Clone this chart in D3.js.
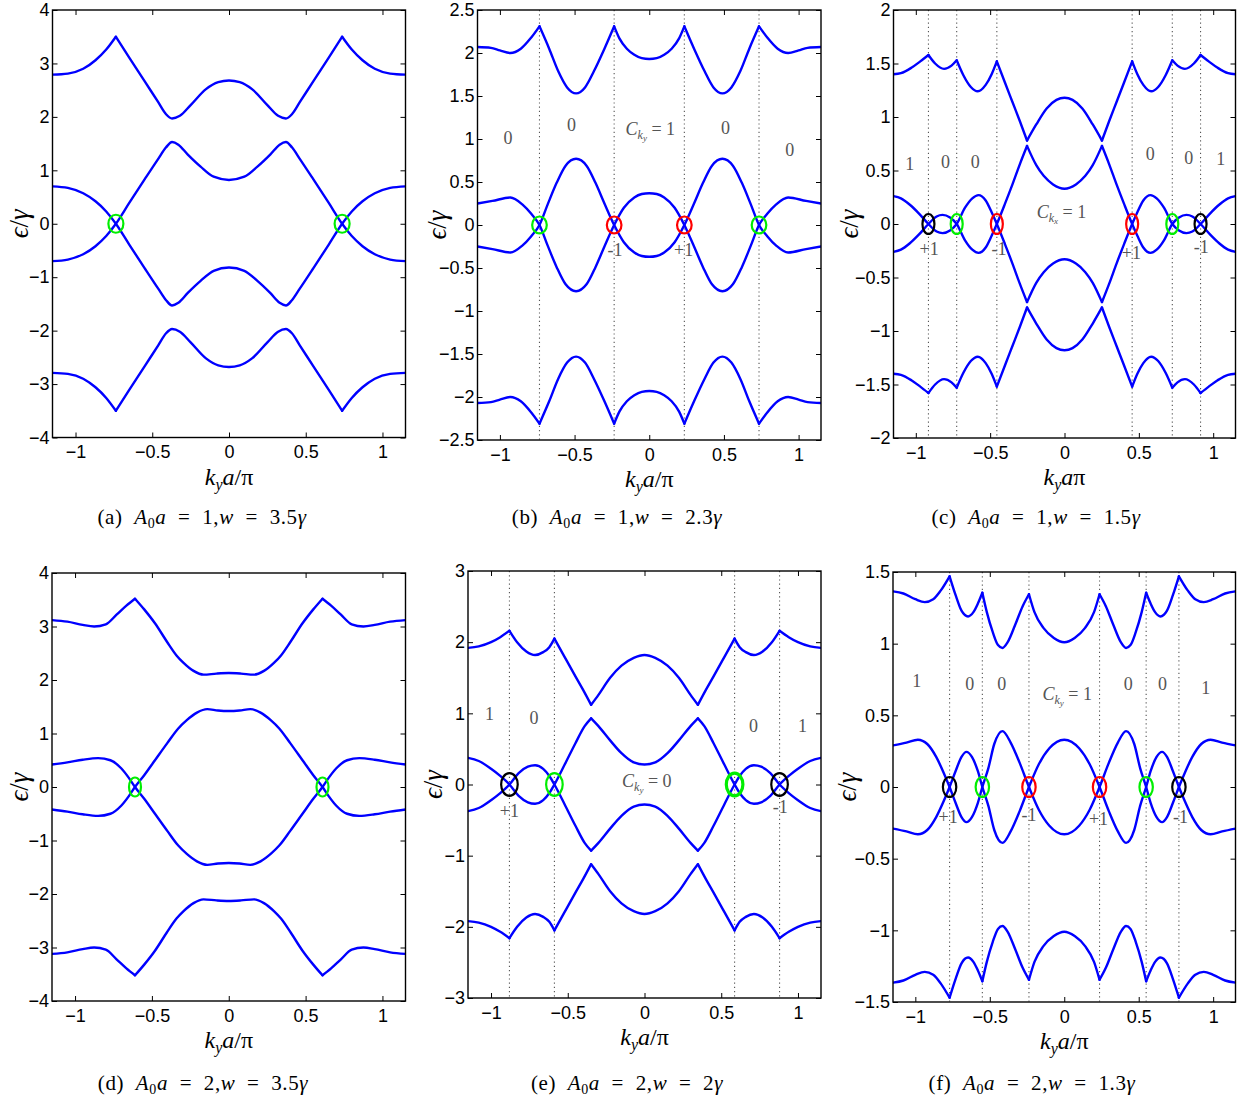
<!DOCTYPE html>
<html><head><meta charset="utf-8">
<script src="https://cdn.jsdelivr.net/npm/d3@7"></script>
<style>body{margin:0;background:#fff}svg{display:block}</style>
</head><body>
<svg id="chart" width="1250" height="1100"></svg>
<script>
// ---------- shared axis values ----------
const kDomain = [-1.15, 1.15];
const kTicks = [-1, -0.5, 0, 0.5, 1];
const kTickLabels = ["−1", "−0.5", "0", "0.5", "1"];

// ---------- panel (a) A0a=1, w=3.5 ----------
const aYTicks = [-4,-3,-2,-1,0,1,2,3,4];
const aYLabels = ["−4","−3","−2","−1","0","1","2","3","4"];
const aBand4 = [
 [[-1.15,2.79],[-1.05,2.81],[-0.95,2.9],[-0.87,3.06],[-0.8,3.26],[-0.737,3.5]],
 [[-0.737,3.5],[-0.65,3.11],[-0.55,2.67],[-0.46,2.27],[-0.41,2.05],[-0.371,1.97],[-0.32,2.02],[-0.25,2.22],[-0.15,2.52],[-0.07,2.65],[0,2.68],[0.07,2.65],[0.15,2.52],[0.25,2.22],[0.32,2.02],[0.371,1.97],[0.41,2.05],[0.46,2.27],[0.55,2.67],[0.65,3.11],[0.737,3.5]],
 [[0.737,3.5],[0.8,3.26],[0.87,3.06],[0.95,2.9],[1.05,2.81],[1.15,2.79]]
];
const aBand1 = [
 [[-1.15,-2.79],[-1.05,-2.81],[-0.95,-2.9],[-0.87,-3.06],[-0.8,-3.26],[-0.737,-3.5]],
 [[-0.737,-3.5],[-0.65,-3.11],[-0.55,-2.67],[-0.46,-2.27],[-0.41,-2.05],[-0.371,-1.97],[-0.32,-2.02],[-0.25,-2.22],[-0.15,-2.52],[-0.07,-2.65],[0,-2.68],[0.07,-2.65],[0.15,-2.52],[0.25,-2.22],[0.32,-2.02],[0.371,-1.97],[0.41,-2.05],[0.46,-2.27],[0.55,-2.67],[0.65,-3.11],[0.737,-3.5]],
 [[0.737,-3.5],[0.8,-3.26],[0.87,-3.06],[0.95,-2.9],[1.05,-2.81],[1.15,-2.79]]
];
const aMidA = [
 [[-1.15,0.7],[-1.05,0.67],[-0.95,0.57],[-0.87,0.42],[-0.8,0.23],[-0.737,0],[-0.65,-0.39],[-0.55,-0.83],[-0.46,-1.22],[-0.41,-1.43],[-0.371,-1.53],[-0.33,-1.48],[-0.27,-1.3],[-0.185,-1.07],[-0.1,-0.88],[0,-0.82],[0.1,-0.88],[0.185,-1.07],[0.27,-1.3],[0.33,-1.48],[0.371,-1.53],[0.41,-1.43],[0.46,-1.22],[0.55,-0.83],[0.65,-0.39],[0.737,0],[0.8,0.23],[0.87,0.42],[0.95,0.57],[1.05,0.67],[1.15,0.7]]
];
const aMidB = [
 [[-1.15,-0.7],[-1.05,-0.67],[-0.95,-0.57],[-0.87,-0.42],[-0.8,-0.23],[-0.737,0],[-0.65,0.39],[-0.55,0.83],[-0.46,1.22],[-0.41,1.43],[-0.371,1.53],[-0.33,1.48],[-0.27,1.3],[-0.185,1.07],[-0.1,0.88],[0,0.82],[0.1,0.88],[0.185,1.07],[0.27,1.3],[0.33,1.48],[0.371,1.53],[0.41,1.43],[0.46,1.22],[0.55,0.83],[0.65,0.39],[0.737,0],[0.8,-0.23],[0.87,-0.42],[0.95,-0.57],[1.05,-0.67],[1.15,-0.7]]
];
const aDotted = [];
const aCircles = [[-0.737,"#00ee00",2.2],[0.737,"#00ee00",2.2]];
const aTexts = [];

// ---------- panel (b) A0a=1, w=2.3 ----------
const bYTicks = [-2.5,-2,-1.5,-1,-0.5,0,0.5,1,1.5,2,2.5];
const bYLabels = ["−2.5","−2","−1.5","−1","−0.5","0","0.5","1","1.5","2","2.5"];
const bBand4 = [
 [[-1.15,2.07],[-1.06,2.06],[-1.0,2.03],[-0.93,2.0],[-0.86,2.05],[-0.79,2.18],[-0.735,2.31]],
 [[-0.735,2.31],[-0.67,2.05],[-0.61,1.79],[-0.55,1.6],[-0.49,1.53],[-0.43,1.6],[-0.37,1.79],[-0.3,2.05],[-0.235,2.31]],
 [[-0.235,2.31],[-0.2,2.17],[-0.15,2.05],[-0.1,1.98],[-0.05,1.94],[0,1.93],[0.05,1.94],[0.1,1.98],[0.15,2.05],[0.2,2.17],[0.235,2.31]],
 [[0.235,2.31],[0.3,2.05],[0.37,1.79],[0.43,1.6],[0.49,1.53],[0.55,1.6],[0.61,1.79],[0.67,2.05],[0.735,2.31]],
 [[0.735,2.31],[0.79,2.18],[0.86,2.05],[0.93,2.0],[1.0,2.03],[1.06,2.06],[1.15,2.07]]
];
const bBand1 = [
 [[-1.15,-2.07],[-1.06,-2.06],[-1.0,-2.03],[-0.93,-2.0],[-0.86,-2.05],[-0.79,-2.18],[-0.735,-2.31]],
 [[-0.735,-2.31],[-0.67,-2.05],[-0.61,-1.79],[-0.55,-1.6],[-0.49,-1.53],[-0.43,-1.6],[-0.37,-1.79],[-0.3,-2.05],[-0.235,-2.31]],
 [[-0.235,-2.31],[-0.2,-2.17],[-0.15,-2.05],[-0.1,-1.98],[-0.05,-1.94],[0,-1.93],[0.05,-1.94],[0.1,-1.98],[0.15,-2.05],[0.2,-2.17],[0.235,-2.31]],
 [[0.235,-2.31],[0.3,-2.05],[0.37,-1.79],[0.43,-1.6],[0.49,-1.53],[0.55,-1.6],[0.61,-1.79],[0.67,-2.05],[0.735,-2.31]],
 [[0.735,-2.31],[0.79,-2.18],[0.86,-2.05],[0.93,-2.0],[1.0,-2.03],[1.06,-2.06],[1.15,-2.07]]
];
const bMidA = [
 [[-1.15,0.25],[-1.05,0.28],[-0.93,0.32],[-0.85,0.24],[-0.79,0.13],[-0.735,0],[-0.68,-0.24],[-0.62,-0.49],[-0.56,-0.69],[-0.49,-0.77],[-0.42,-0.69],[-0.36,-0.49],[-0.3,-0.25],[-0.235,0],[-0.17,0.2],[-0.1,0.32],[-0.05,0.36],[0,0.37],[0.05,0.36],[0.1,0.32],[0.17,0.2],[0.235,0],[0.3,-0.25],[0.36,-0.49],[0.42,-0.69],[0.49,-0.77],[0.56,-0.69],[0.62,-0.49],[0.68,-0.24],[0.735,0],[0.79,0.13],[0.85,0.24],[0.93,0.32],[1.05,0.28],[1.15,0.25]]
];
const bMidB = [
 [[-1.15,-0.25],[-1.05,-0.28],[-0.93,-0.32],[-0.85,-0.24],[-0.79,-0.13],[-0.735,0],[-0.68,0.24],[-0.62,0.49],[-0.56,0.69],[-0.49,0.77],[-0.42,0.69],[-0.36,0.49],[-0.3,0.25],[-0.235,0],[-0.17,-0.2],[-0.1,-0.32],[-0.05,-0.36],[0,-0.37],[0.05,-0.36],[0.1,-0.32],[0.17,-0.2],[0.235,0],[0.3,0.25],[0.36,0.49],[0.42,0.69],[0.49,0.77],[0.56,0.69],[0.62,0.49],[0.68,0.24],[0.735,0],[0.79,-0.13],[0.85,-0.24],[0.93,-0.32],[1.05,-0.28],[1.15,-0.25]]
];
const bDotted = [-0.735,-0.235,0.235,0.735];
const bCircles = [[-0.735,"#00ee00",2.2],[-0.235,"#ff0000",2.2],[0.235,"#ff0000",2.2],[0.735,"#00ee00",2.2]];
const bTexts = [[-0.945,1.02,"0"],[-0.52,1.17,"0"],[0.007,1.12,"C","y","1"],[0.51,1.13,"0"],[0.94,0.88,"0"],[-0.23,-0.29,"-1"],[0.23,-0.29,"+1"]];

// ---------- panel (c) A0a=1, w=1.5 ----------
const cYTicks = [-2,-1.5,-1,-0.5,0,0.5,1,1.5,2];
const cYLabels = ["−2","−1.5","−1","−0.5","0","0.5","1","1.5","2"];
const cBand4 = [
 [[-1.15,1.4],[-1.1,1.41],[-1.03,1.46],[-0.97,1.52],[-0.915,1.58]],
 [[-0.915,1.58],[-0.87,1.5],[-0.81,1.45],[-0.76,1.48],[-0.725,1.53]],
 [[-0.725,1.53],[-0.68,1.39],[-0.63,1.28],[-0.583,1.24],[-0.53,1.3],[-0.49,1.4],[-0.455,1.52]],
 [[-0.455,1.52],[-0.4,1.32],[-0.35,1.14],[-0.3,0.96],[-0.252,0.78]],
 [[-0.252,0.78],[-0.19,0.93],[-0.12,1.08],[-0.054,1.16],[0,1.18],[0.054,1.16],[0.12,1.08],[0.19,0.93],[0.252,0.78]],
 [[0.252,0.78],[0.3,0.96],[0.35,1.14],[0.4,1.32],[0.455,1.52]],
 [[0.455,1.52],[0.49,1.4],[0.53,1.3],[0.583,1.24],[0.63,1.28],[0.68,1.39],[0.725,1.53]],
 [[0.725,1.53],[0.76,1.48],[0.81,1.45],[0.87,1.5],[0.915,1.58]],
 [[0.915,1.58],[0.97,1.52],[1.03,1.46],[1.1,1.41],[1.15,1.4]]
];
const cBand1 = [
 [[-1.15,-1.4],[-1.1,-1.41],[-1.03,-1.46],[-0.97,-1.52],[-0.915,-1.58]],
 [[-0.915,-1.58],[-0.87,-1.5],[-0.81,-1.45],[-0.76,-1.48],[-0.725,-1.53]],
 [[-0.725,-1.53],[-0.68,-1.39],[-0.63,-1.28],[-0.583,-1.24],[-0.53,-1.3],[-0.49,-1.4],[-0.455,-1.52]],
 [[-0.455,-1.52],[-0.4,-1.32],[-0.35,-1.14],[-0.3,-0.96],[-0.252,-0.78]],
 [[-0.252,-0.78],[-0.19,-0.93],[-0.12,-1.08],[-0.054,-1.16],[0,-1.18],[0.054,-1.16],[0.12,-1.08],[0.19,-0.93],[0.252,-0.78]],
 [[0.252,-0.78],[0.3,-0.96],[0.35,-1.14],[0.4,-1.32],[0.455,-1.52]],
 [[0.455,-1.52],[0.49,-1.4],[0.53,-1.3],[0.583,-1.24],[0.63,-1.28],[0.68,-1.39],[0.725,-1.53]],
 [[0.725,-1.53],[0.76,-1.48],[0.81,-1.45],[0.87,-1.5],[0.915,-1.58]],
 [[0.915,-1.58],[0.97,-1.52],[1.03,-1.46],[1.1,-1.41],[1.15,-1.4]]
];
const cMidA = [
 [[-1.15,0.26],[-1.1,0.24],[-1.04,0.18],[-0.98,0.1],[-0.915,0],[-0.86,-0.07],[-0.82,-0.085],[-0.77,-0.06],[-0.725,0],[-0.67,0.15],[-0.62,0.24],[-0.578,0.27],[-0.53,0.22],[-0.49,0.11],[-0.455,0],[-0.4,-0.19],[-0.35,-0.37],[-0.3,-0.56],[-0.252,-0.73]],
 [[-0.252,-0.73],[-0.19,-0.55],[-0.14,-0.45],[-0.077,-0.37],[0,-0.33],[0.077,-0.37],[0.14,-0.45],[0.19,-0.55],[0.252,-0.73]],
 [[0.252,-0.73],[0.3,-0.56],[0.35,-0.37],[0.4,-0.19],[0.455,0],[0.49,0.11],[0.53,0.22],[0.578,0.27],[0.62,0.24],[0.67,0.15],[0.725,0],[0.77,-0.06],[0.82,-0.085],[0.86,-0.07],[0.915,0],[0.98,0.1],[1.04,0.18],[1.1,0.24],[1.15,0.26]]
];
const cMidB = [
 [[-1.15,-0.26],[-1.1,-0.24],[-1.04,-0.18],[-0.98,-0.1],[-0.915,0],[-0.86,0.07],[-0.82,0.085],[-0.77,0.06],[-0.725,0],[-0.67,-0.15],[-0.62,-0.24],[-0.578,-0.27],[-0.53,-0.22],[-0.49,-0.11],[-0.455,0],[-0.4,0.19],[-0.35,0.37],[-0.3,0.56],[-0.252,0.73]],
 [[-0.252,0.73],[-0.19,0.55],[-0.14,0.45],[-0.077,0.37],[0,0.33],[0.077,0.37],[0.14,0.45],[0.19,0.55],[0.252,0.73]],
 [[0.252,0.73],[0.3,0.56],[0.35,0.37],[0.4,0.19],[0.455,0],[0.49,-0.11],[0.53,-0.22],[0.578,-0.27],[0.62,-0.24],[0.67,-0.15],[0.725,0],[0.77,0.06],[0.82,0.085],[0.86,0.07],[0.915,0],[0.98,-0.1],[1.04,-0.18],[1.1,-0.24],[1.15,-0.26]]
];
const cDotted = [-0.915,-0.725,-0.455,0.455,0.725,0.915];
const cCircles = [[-0.915,"#000000",2.2],[-0.725,"#00ee00",2.2],[-0.455,"#ff0000",2.2],[0.455,"#ff0000",2.2],[0.725,"#00ee00",2.2],[0.915,"#000000",2.2]];
const cTexts = [[-1.04,0.56,"1"],[-0.8,0.58,"0"],[-0.6,0.58,"0"],[0.576,0.66,"0"],[0.835,0.62,"0"],[1.05,0.61,"1"],[-0.02,0.115,"C","x","1"],[-0.91,-0.23,"+1"],[-0.44,-0.23,"-1"],[0.45,-0.27,"+1"],[0.92,-0.21,"-1"]];

// ---------- panel (d) A0a=2, w=3.5 ----------
const dYTicks = [-4,-3,-2,-1,0,1,2,3,4];
const dYLabels = ["−4","−3","−2","−1","0","1","2","3","4"];
const dBand4 = [
 [[-1.15,3.12],[-1.05,3.09],[-0.95,3.03],[-0.876,3.0],[-0.8,3.04],[-0.73,3.22],[-0.666,3.39],[-0.61,3.52]],
 [[-0.61,3.52],[-0.55,3.32],[-0.48,3.06],[-0.403,2.72],[-0.34,2.46],[-0.294,2.32],[-0.229,2.17],[-0.164,2.1],[-0.08,2.12],[0,2.13],[0.08,2.12],[0.164,2.1],[0.229,2.17],[0.294,2.32],[0.34,2.46],[0.403,2.72],[0.48,3.06],[0.55,3.32],[0.61,3.52]],
 [[0.61,3.52],[0.666,3.39],[0.73,3.22],[0.8,3.04],[0.876,3.0],[0.95,3.03],[1.05,3.09],[1.15,3.12]]
];
const dBand1 = [
 [[-1.15,-3.12],[-1.05,-3.09],[-0.95,-3.03],[-0.876,-3.0],[-0.8,-3.04],[-0.73,-3.22],[-0.666,-3.39],[-0.61,-3.52]],
 [[-0.61,-3.52],[-0.55,-3.32],[-0.48,-3.06],[-0.403,-2.72],[-0.34,-2.46],[-0.294,-2.32],[-0.229,-2.17],[-0.164,-2.1],[-0.08,-2.12],[0,-2.13],[0.08,-2.12],[0.164,-2.1],[0.229,-2.17],[0.294,-2.32],[0.34,-2.46],[0.403,-2.72],[0.48,-3.06],[0.55,-3.32],[0.61,-3.52]],
 [[0.61,-3.52],[0.666,-3.39],[0.73,-3.22],[0.8,-3.04],[0.876,-3.0],[0.95,-3.03],[1.05,-3.09],[1.15,-3.12]]
];
const dMidA = [
 [[-1.15,0.42],[-1.05,0.46],[-0.95,0.51],[-0.85,0.54],[-0.77,0.5],[-0.7,0.35],[-0.65,0.17],[-0.61,0],[-0.55,-0.22],[-0.48,-0.5],[-0.4,-0.82],[-0.33,-1.09],[-0.273,-1.25],[-0.207,-1.39],[-0.14,-1.455],[-0.07,-1.43],[0,-1.42],[0.07,-1.43],[0.14,-1.455],[0.207,-1.39],[0.273,-1.25],[0.33,-1.09],[0.4,-0.82],[0.48,-0.5],[0.55,-0.22],[0.61,0],[0.65,0.17],[0.7,0.35],[0.77,0.5],[0.85,0.54],[0.95,0.51],[1.05,0.46],[1.15,0.42]]
];
const dMidB = [
 [[-1.15,-0.42],[-1.05,-0.46],[-0.95,-0.51],[-0.85,-0.54],[-0.77,-0.5],[-0.7,-0.35],[-0.65,-0.17],[-0.61,0],[-0.55,0.22],[-0.48,0.5],[-0.4,0.82],[-0.33,1.09],[-0.273,1.25],[-0.207,1.39],[-0.14,1.455],[-0.07,1.43],[0,1.42],[0.07,1.43],[0.14,1.455],[0.207,1.39],[0.273,1.25],[0.33,1.09],[0.4,0.82],[0.48,0.5],[0.55,0.22],[0.61,0],[0.65,-0.17],[0.7,-0.35],[0.77,-0.5],[0.85,-0.54],[0.95,-0.51],[1.05,-0.46],[1.15,-0.42]]
];
const dDotted = [];
const dCircles = [[-0.61,"#00ee00",2.2],[0.61,"#00ee00",2.2]];
const dTexts = [];

// ---------- panel (e) A0a=2, w=2 ----------
const eYTicks = [-3,-2,-1,0,1,2,3];
const eYLabels = ["−3","−2","−1","0","1","2","3"];
const eBand4 = [
 [[-1.15,1.92],[-1.08,1.94],[-1.0,2.0],[-0.94,2.07],[-0.88,2.16]],
 [[-0.88,2.16],[-0.83,2.0],[-0.77,1.87],[-0.713,1.82],[-0.66,1.86],[-0.62,1.93],[-0.587,2.05]],
 [[-0.587,2.05],[-0.52,1.79],[-0.45,1.52],[-0.4,1.33],[-0.348,1.12]],
 [[-0.348,1.12],[-0.3,1.26],[-0.224,1.5],[-0.15,1.67],[-0.07,1.78],[0,1.82],[0.07,1.78],[0.15,1.67],[0.224,1.5],[0.3,1.26],[0.348,1.12]],
 [[0.348,1.12],[0.4,1.33],[0.45,1.52],[0.52,1.79],[0.587,2.05]],
 [[0.587,2.05],[0.62,1.93],[0.66,1.86],[0.713,1.82],[0.77,1.87],[0.83,2.0],[0.88,2.16]],
 [[0.88,2.16],[0.94,2.07],[1.0,2.0],[1.08,1.94],[1.15,1.92]]
];
const eBand1 = [
 [[-1.15,-1.92],[-1.08,-1.94],[-1.0,-2.0],[-0.94,-2.07],[-0.88,-2.16]],
 [[-0.88,-2.16],[-0.83,-2.0],[-0.77,-1.87],[-0.713,-1.82],[-0.66,-1.86],[-0.62,-1.93],[-0.587,-2.05]],
 [[-0.587,-2.05],[-0.52,-1.79],[-0.45,-1.52],[-0.4,-1.33],[-0.348,-1.12]],
 [[-0.348,-1.12],[-0.3,-1.26],[-0.224,-1.5],[-0.15,-1.67],[-0.07,-1.78],[0,-1.82],[0.07,-1.78],[0.15,-1.67],[0.224,-1.5],[0.3,-1.26],[0.348,-1.12]],
 [[0.348,-1.12],[0.4,-1.33],[0.45,-1.52],[0.52,-1.79],[0.587,-2.05]],
 [[0.587,-2.05],[0.62,-1.93],[0.66,-1.86],[0.713,-1.82],[0.77,-1.87],[0.83,-2.0],[0.88,-2.16]],
 [[0.88,-2.16],[0.94,-2.07],[1.0,-2.0],[1.08,-1.94],[1.15,-1.92]]
];
const eMidA = [
 [[-1.15,0.375],[-1.08,0.33],[-1.0,0.22],[-0.94,0.12],[-0.88,0],[-0.82,-0.16],[-0.76,-0.25],[-0.713,-0.27],[-0.66,-0.22],[-0.62,-0.12],[-0.587,0],[-0.52,0.28],[-0.45,0.58],[-0.39,0.82],[-0.348,0.93]],
 [[-0.348,0.93],[-0.3,0.82],[-0.224,0.62],[-0.15,0.44],[-0.07,0.31],[0,0.28],[0.07,0.31],[0.15,0.44],[0.224,0.62],[0.3,0.82],[0.348,0.93]],
 [[0.348,0.93],[0.39,0.82],[0.45,0.58],[0.52,0.28],[0.587,0],[0.62,-0.12],[0.66,-0.22],[0.713,-0.27],[0.76,-0.25],[0.82,-0.16],[0.88,0],[0.94,0.12],[1.0,0.22],[1.08,0.33],[1.15,0.375]]
];
const eMidB = [
 [[-1.15,-0.375],[-1.08,-0.33],[-1.0,-0.22],[-0.94,-0.12],[-0.88,0],[-0.82,0.16],[-0.76,0.25],[-0.713,0.27],[-0.66,0.22],[-0.62,0.12],[-0.587,0],[-0.52,-0.28],[-0.45,-0.58],[-0.39,-0.82],[-0.348,-0.93]],
 [[-0.348,-0.93],[-0.3,-0.82],[-0.224,-0.62],[-0.15,-0.44],[-0.07,-0.31],[0,-0.28],[0.07,-0.31],[0.15,-0.44],[0.224,-0.62],[0.3,-0.82],[0.348,-0.93]],
 [[0.348,-0.93],[0.39,-0.82],[0.45,-0.58],[0.52,-0.28],[0.587,0],[0.62,0.12],[0.66,0.22],[0.713,0.27],[0.76,0.25],[0.82,0.16],[0.88,0],[0.94,-0.12],[1.0,-0.22],[1.08,-0.33],[1.15,-0.375]]
];
const eDotted = [-0.88,-0.587,0.587,0.88];
const eCircles = [[-0.88,"#000000",2.2],[-0.587,"#00ee00",2.2],[0.587,"#00ee00",3.2],[0.88,"#000000",2.2]];
const eTexts = [[-1.01,0.99,"1"],[-0.72,0.94,"0"],[0.71,0.82,"0"],[1.03,0.82,"1"],[0.015,0.06,"C","y","0"],[-0.88,-0.37,"+1"],[0.885,-0.31,"-1"]];

// ---------- panel (f) A0a=2, w=1.3 ----------
const fYTicks = [-1.5,-1,-0.5,0,0.5,1,1.5];
const fYLabels = ["−1.5","−1","−0.5","0","0.5","1","1.5"];
const fBand4 = [
 [[-1.15,1.365],[-1.08,1.35],[-1.0,1.31],[-0.937,1.29],[-0.88,1.31],[-0.83,1.37],[-0.77,1.47]],
 [[-0.77,1.47],[-0.73,1.34],[-0.69,1.23],[-0.646,1.19],[-0.61,1.22],[-0.58,1.28],[-0.55,1.355]],
 [[-0.55,1.355],[-0.52,1.22],[-0.48,1.08],[-0.445,0.99],[-0.415,0.97],[-0.38,1.01],[-0.33,1.13],[-0.28,1.26],[-0.237,1.345]],
 [[-0.237,1.345],[-0.2,1.22],[-0.14,1.11],[-0.07,1.04],[0,1.01],[0.07,1.04],[0.14,1.11],[0.2,1.22],[0.237,1.345]],
 [[0.237,1.345],[0.28,1.26],[0.33,1.13],[0.38,1.01],[0.415,0.97],[0.445,0.99],[0.48,1.08],[0.52,1.22],[0.55,1.355]],
 [[0.55,1.355],[0.58,1.28],[0.61,1.22],[0.646,1.19],[0.69,1.23],[0.73,1.34],[0.77,1.47]],
 [[0.77,1.47],[0.83,1.37],[0.88,1.31],[0.937,1.29],[1.0,1.31],[1.08,1.35],[1.15,1.365]]
];
const fBand1 = [
 [[-1.15,-1.365],[-1.08,-1.35],[-1.0,-1.31],[-0.937,-1.29],[-0.88,-1.31],[-0.83,-1.37],[-0.77,-1.47]],
 [[-0.77,-1.47],[-0.73,-1.34],[-0.69,-1.23],[-0.646,-1.19],[-0.61,-1.22],[-0.58,-1.28],[-0.55,-1.355]],
 [[-0.55,-1.355],[-0.52,-1.22],[-0.48,-1.08],[-0.445,-0.99],[-0.415,-0.97],[-0.38,-1.01],[-0.33,-1.13],[-0.28,-1.26],[-0.237,-1.345]],
 [[-0.237,-1.345],[-0.2,-1.22],[-0.14,-1.11],[-0.07,-1.04],[0,-1.01],[0.07,-1.04],[0.14,-1.11],[0.2,-1.22],[0.237,-1.345]],
 [[0.237,-1.345],[0.28,-1.26],[0.33,-1.13],[0.38,-1.01],[0.415,-0.97],[0.445,-0.99],[0.48,-1.08],[0.52,-1.22],[0.55,-1.355]],
 [[0.55,-1.355],[0.58,-1.28],[0.61,-1.22],[0.646,-1.19],[0.69,-1.23],[0.73,-1.34],[0.77,-1.47]],
 [[0.77,-1.47],[0.83,-1.37],[0.88,-1.31],[0.937,-1.29],[1.0,-1.31],[1.08,-1.35],[1.15,-1.365]]
];
const fMidA = [
 [[-1.15,0.29],[-1.06,0.31],[-0.983,0.33],[-0.92,0.3],[-0.86,0.21],[-0.81,0.1],[-0.77,0],[-0.73,-0.11],[-0.69,-0.21],[-0.657,-0.245],[-0.62,-0.21],[-0.58,-0.11],[-0.55,0],[-0.51,0.13],[-0.47,0.3],[-0.415,0.39],[-0.36,0.31],[-0.3,0.17],[-0.237,0],[-0.17,-0.16],[-0.1,-0.27],[0,-0.33],[0.1,-0.27],[0.17,-0.16],[0.237,0],[0.3,0.17],[0.36,0.31],[0.415,0.39],[0.47,0.3],[0.51,0.13],[0.55,0],[0.58,-0.11],[0.62,-0.21],[0.657,-0.245],[0.69,-0.21],[0.73,-0.11],[0.77,0],[0.81,0.1],[0.86,0.21],[0.92,0.3],[0.983,0.33],[1.06,0.31],[1.15,0.29]]
];
const fMidB = [
 [[-1.15,-0.29],[-1.06,-0.31],[-0.983,-0.33],[-0.92,-0.3],[-0.86,-0.21],[-0.81,-0.1],[-0.77,0],[-0.73,0.11],[-0.69,0.21],[-0.657,0.245],[-0.62,0.21],[-0.58,0.11],[-0.55,0],[-0.51,-0.13],[-0.47,-0.3],[-0.415,-0.39],[-0.36,-0.31],[-0.3,-0.17],[-0.237,0],[-0.17,0.16],[-0.1,0.27],[0,0.33],[0.1,0.27],[0.17,0.16],[0.237,0],[0.3,-0.17],[0.36,-0.31],[0.415,-0.39],[0.47,-0.3],[0.51,-0.13],[0.55,0],[0.58,0.11],[0.62,0.21],[0.657,0.245],[0.69,0.21],[0.73,0.11],[0.77,0],[0.81,-0.1],[0.86,-0.21],[0.92,-0.3],[0.983,-0.33],[1.06,-0.31],[1.15,-0.29]]
];
const fDotted = [-0.77,-0.55,-0.237,0.237,0.55,0.77];
const fCircles = [[-0.77,"#000000",2.2],[-0.55,"#00ee00",2.2],[-0.237,"#ff0000",2.2],[0.237,"#ff0000",2.2],[0.55,"#00ee00",2.2],[0.77,"#000000",2.2]];
const fTexts = [[-0.99,0.74,"1"],[-0.635,0.72,"0"],[-0.42,0.72,"0"],[0.02,0.65,"C","y","1"],[0.43,0.72,"0"],[0.66,0.72,"0"],[0.95,0.69,"1"],[-0.78,-0.21,"+1"],[-0.236,-0.19,"-1"],[0.23,-0.22,"+1"],[0.78,-0.21,"-1"]];

// ---------- captions ----------
const capLetters = ["a","b","c","d","e","f"];
const capA = ["1","1","1","2","2","2"];
const capW = ["3.5","2.3","1.5","3.5","2","1.3"];

// ---------- layout (pixels) ----------
const panels = [
 {x0:52.5,x1:405.5,y0:10,y1:437.5,yT:aYTicks,yL:aYLabels,bands:[aBand4,aMidA,aMidB,aBand1],dot:aDotted,circ:aCircles,txt:aTexts,rx:7.5,ry:9,ylx:19,capx:202,capy:517,xlab:"/π"},
 {x0:477.5,x1:821,y0:10,y1:440,yT:bYTicks,yL:bYLabels,bands:[bBand4,bMidA,bMidB,bBand1],dot:bDotted,circ:bCircles,txt:bTexts,rx:7.3,ry:8.5,ylx:437,capx:617,capy:517,xlab:"/π"},
 {x0:893.5,x1:1235.5,y0:10,y1:438,yT:cYTicks,yL:cYLabels,bands:[cBand4,cMidA,cMidB,cBand1],dot:cDotted,circ:cCircles,txt:cTexts,rx:6,ry:10,ylx:849,capx:1036,capy:517,xlab:"π"},
 {x0:52,x1:405.5,y0:573,y1:1001,yT:dYTicks,yL:dYLabels,bands:[dBand4,dMidA,dMidB,dBand1],dot:dDotted,circ:dCircles,txt:dTexts,rx:6,ry:9.5,ylx:19,capx:203,capy:1083,xlab:"/π"},
 {x0:468,x1:821,y0:571,y1:998,yT:eYTicks,yL:eYLabels,bands:[eBand4,eMidA,eMidB,eBand1],dot:eDotted,circ:eCircles,txt:eTexts,rx:8.3,ry:11.3,ylx:433,capx:627,capy:1083,xlab:"/π"},
 {x0:893,x1:1235.5,y0:572,y1:1002,yT:fYTicks,yL:fYLabels,bands:[fBand4,fMidA,fMidB,fBand1],dot:fDotted,circ:fCircles,txt:fTexts,rx:6.7,ry:10,ylx:847,capx:1032,capy:1083,xlab:"/π"}
];

const svg = d3.select("#chart");
const SANS = "'Liberation Sans', Arial, Helvetica, sans-serif";
const SERIF = "'Liberation Serif', 'Times New Roman', 'DejaVu Serif', serif";
const GRAY = "#555555";

panels.forEach((p, i) => {
  const x = d3.scaleLinear().domain(kDomain).range([p.x0, p.x1]);
  const y = d3.scaleLinear().domain([p.yT[0], p.yT[p.yT.length-1]]).range([p.y1, p.y0]);
  const g = svg.append("g");
  const cid = "clip" + i;
  svg.append("clipPath").attr("id", cid).append("rect")
    .attr("x", p.x0).attr("y", p.y0).attr("width", p.x1 - p.x0).attr("height", p.y1 - p.y0);
  const plot = g.append("g").attr("clip-path", `url(#${cid})`);

  // dotted separators
  plot.selectAll("line.dot").data(p.dot).join("line")
    .attr("x1", d => x(d)).attr("x2", d => x(d)).attr("y1", p.y0).attr("y2", p.y1)
    .attr("stroke", "#555").attr("stroke-width", 1.1).attr("stroke-dasharray", "1.2,3");

  // bands
  const line = d3.line().x(d => x(d[0])).y(d => y(d[1])).curve(d3.curveMonotoneX);
  p.bands.forEach(band => band.forEach(seg => {
    plot.append("path").attr("d", line(seg)).attr("fill", "none")
      .attr("stroke", "#0000ff").attr("stroke-width", 2.4)
      .attr("stroke-linejoin", "round").attr("stroke-linecap", "round");
  }));

  // Weyl-point circles
  plot.selectAll("ellipse").data(p.circ).join("ellipse")
    .attr("cx", d => x(d[0])).attr("cy", y(0)).attr("rx", p.rx).attr("ry", p.ry)
    .attr("fill", "none").attr("stroke", d => d[1]).attr("stroke-width", d => d[2]);

  // annotation texts
  p.txt.forEach(t => {
    const tx = g.append("text").attr("x", x(t[0])).attr("y", y(t[1]))
      .attr("text-anchor", "middle").attr("dy", "0.35em")
      .attr("font-family", SERIF).attr("font-size", 18).attr("fill", GRAY)
      .style("white-space", "pre");
    if (t[2] === "C") {
      tx.append("tspan").attr("font-style", "italic").text("C");
      tx.append("tspan").attr("dy", 4).attr("font-size", 12).attr("font-style", "italic").text("k");
      tx.append("tspan").attr("dy", 2).attr("font-size", 9).attr("font-style", "italic").text(t[3]);
      tx.append("tspan").attr("dy", -6).text(" = " + t[4]);
    } else {
      tx.text(t[2]);
    }
  });

  // axes
  const styleAxis = sel => {
    sel.select(".domain").remove();
    sel.attr("font-family", SANS).attr("font-size", 18);
    sel.selectAll("line").attr("stroke", "#000").attr("stroke-width", 1);
    sel.selectAll("text").attr("fill", "#000");
  };
  g.append("g").attr("transform", `translate(0,${p.y1})`)
    .call(d3.axisBottom(x).tickValues(kTicks).tickFormat((d, j) => kTickLabels[j]).tickSizeInner(-5).tickSizeOuter(0).tickPadding(8))
    .call(styleAxis);
  g.append("g").attr("transform", `translate(0,${p.y0})`)
    .call(d3.axisTop(x).tickValues(kTicks).tickFormat("").tickSizeInner(-5).tickSizeOuter(0))
    .call(styleAxis);
  g.append("g").attr("transform", `translate(${p.x0},0)`)
    .call(d3.axisLeft(y).tickValues(p.yT).tickFormat((d, j) => p.yL[j]).tickSizeInner(-5).tickSizeOuter(0).tickPadding(3))
    .call(styleAxis);
  g.append("g").attr("transform", `translate(${p.x1},0)`)
    .call(d3.axisRight(y).tickValues(p.yT).tickFormat("").tickSizeInner(-5).tickSizeOuter(0))
    .call(styleAxis);

  // frame
  g.append("rect").attr("x", p.x0).attr("y", p.y0).attr("width", p.x1 - p.x0).attr("height", p.y1 - p.y0)
    .attr("fill", "none").attr("stroke", "#000").attr("stroke-width", 1.4);

  // x label
  const xl = g.append("text").attr("x", x(0)).attr("y", p.y1 + 47).attr("text-anchor", "middle")
    .attr("font-family", SERIF).attr("font-size", 24).attr("fill", "#000");
  xl.append("tspan").attr("font-style", "italic").text("k");
  xl.append("tspan").attr("dy", 5).attr("font-size", 16).attr("font-style", "italic").text("y");
  xl.append("tspan").attr("dy", -5).attr("font-style", "italic").text("a");
  xl.append("tspan").text(p.xlab);

  // y label
  const cy = (p.y0 + p.y1) / 2;
  const yl = g.append("text").attr("transform", `translate(${p.ylx},${cy}) rotate(-90)`)
    .attr("text-anchor", "middle").attr("dy", "0.35em")
    .attr("font-family", SERIF).attr("font-size", 27).attr("fill", "#000");
  yl.append("tspan").attr("font-style", "italic").text("ϵ");
  yl.append("tspan").text("/");
  yl.append("tspan").attr("font-style", "italic").text("γ");

  // caption
  const cp = g.append("text").attr("x", p.capx).attr("y", p.capy).attr("dy", "0.35em")
    .attr("text-anchor", "middle").attr("font-family", SERIF).attr("font-size", 21)
    .attr("letter-spacing", 0.6).attr("fill", "#000").style("white-space", "pre");
  cp.append("tspan").text("(" + capLetters[i] + ")  ");
  cp.append("tspan").attr("font-style", "italic").text("A");
  cp.append("tspan").attr("dy", 4).attr("font-size", 14).text("0");
  cp.append("tspan").attr("dy", -4).attr("font-style", "italic").text("a");
  cp.append("tspan").text("  =  " + capA[i] + ",");
  cp.append("tspan").attr("font-style", "italic").text("w");
  cp.append("tspan").text("  =  " + capW[i]);
  cp.append("tspan").attr("font-style", "italic").text("γ");
});
</script>
</body></html>
